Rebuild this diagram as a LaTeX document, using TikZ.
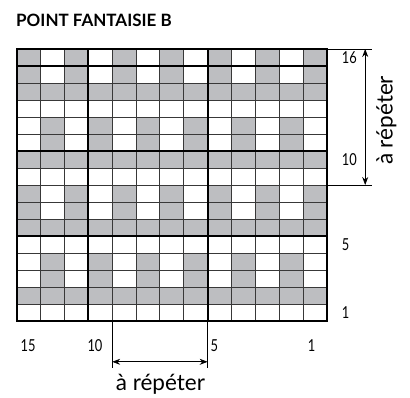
\documentclass[tikz,border=0pt]{standalone}
\usepackage{fontspec}
\setmainfont{Lato}
\usetikzlibrary{arrows.meta}
\definecolor{cellgray}{RGB}{189,190,193}
\tikzset{
  cell/.style={fill=cellgray},
  thinrule/.style={draw=black!78, line width=0.9pt},
  thickrule/.style={draw=black, line width=1.8pt},
  numlabel/.style={font=\fontsize{16.5}{16.5}\selectfont, inner sep=0pt, xscale=0.78},
  replabel/.style={font=\fontsize{22.5}{22.5}\selectfont, inner sep=0pt},
  dimline/.style={line width=0.7pt},
  dimarrow/.style={line width=0.8pt, {Stealth[length=8pt,width=6pt]}-{Stealth[length=8pt,width=6pt]}}
}

\begin{document}
\begin{tikzpicture}[x=1pt,y=-1pt]
\useasboundingbox (0,0) rectangle (410,398);
\node[anchor=west, inner sep=0pt, font=\bfseries\fontsize{17}{17}\selectfont] (title) at (16,20) {POINT FANTAISIE B};

% chart: 13 columns (numbered from the right), 16 rows (from the bottom)
\begin{scope}[shift={(16.7,321)}, x=23.87pt, y=17pt]
  % shaded cells
  \foreach \r in {2,6,10,14}
    \fill[cell] (0,\r-1) rectangle (13,\r);
  \foreach \r in {3,4,11,12}
    \foreach \c in {2,4,...,12}
      \fill[cell] (13-\c,\r-1) rectangle (14-\c,\r);
  \foreach \r in {7,8,15,16}
    \foreach \c in {1,3,...,13}
      \fill[cell] (13-\c,\r-1) rectangle (14-\c,\r);
  % rules
  \foreach \y in {1,...,15}
    \draw[thinrule] (0,\y) -- (13,\y);
  \foreach \x in {1,...,12}
    \draw[thinrule] (\x,0) -- (\x,16);
  \foreach \y in {5,10,15}
    \draw[thickrule] (0,\y) -- (13,\y);
  \foreach \x in {3,8}
    \draw[thickrule] (\x,0) -- (\x,16);
  \draw[thickrule] (0,0) rectangle (13,16);

  % row numbers
  \node[numlabel, anchor=west] (r16) at (13.62,15.5) {16};
  \node[numlabel, anchor=west] (r10) at (13.62,9.5) {10};
  \node[numlabel, anchor=west] (r5) at (13.62,4.5) {5};
  \node[numlabel, anchor=west] (r1) at (13.62,0.5) {1};
  % column numbers
  \node[numlabel] (c15) at (0.48,-1.45) {15};
  \node[numlabel] (c10) at (3.28,-1.45) {10};
  \node[numlabel, anchor=west] (c5) at (8.12,-1.45) {5};
  \node[numlabel] (c1) at (12.35,-1.45) {1};

  % repeat, columns
  \coordinate (b1) at (4,0);
  \coordinate (b2) at (8,0);
  \coordinate (b1e) at (4,-2.75);
  \coordinate (b2e) at (8,-2.75);
  \coordinate (b1a) at (4,-2.4);
  \coordinate (b2a) at (8,-2.4);
  \draw[dimline] (b1) -- (b1e);
  \draw[dimline] (b2) -- (b2e);
  \draw[dimarrow] (b1a) -- (b2a);
  \node[replabel] (bottomrep) at (6.02,-3.72) {à répéter};

  % repeat, rows
  \coordinate (s1) at (13,16);
  \coordinate (s2) at (13,8);
  \coordinate (s1e) at (14.88,16);
  \coordinate (s2e) at (14.88,8);
  \coordinate (s1a) at (14.6,16);
  \coordinate (s2a) at (14.6,8);
  \draw[dimline] (s1) -- (s1e);
  \draw[dimline] (s2) -- (s2e);
  \draw[dimarrow] (s1a) -- (s2a);
  \node[replabel, rotate=90] (siderep) at (15.49,11.8) {à répéter};
\end{scope}
\end{tikzpicture}
\end{document}
